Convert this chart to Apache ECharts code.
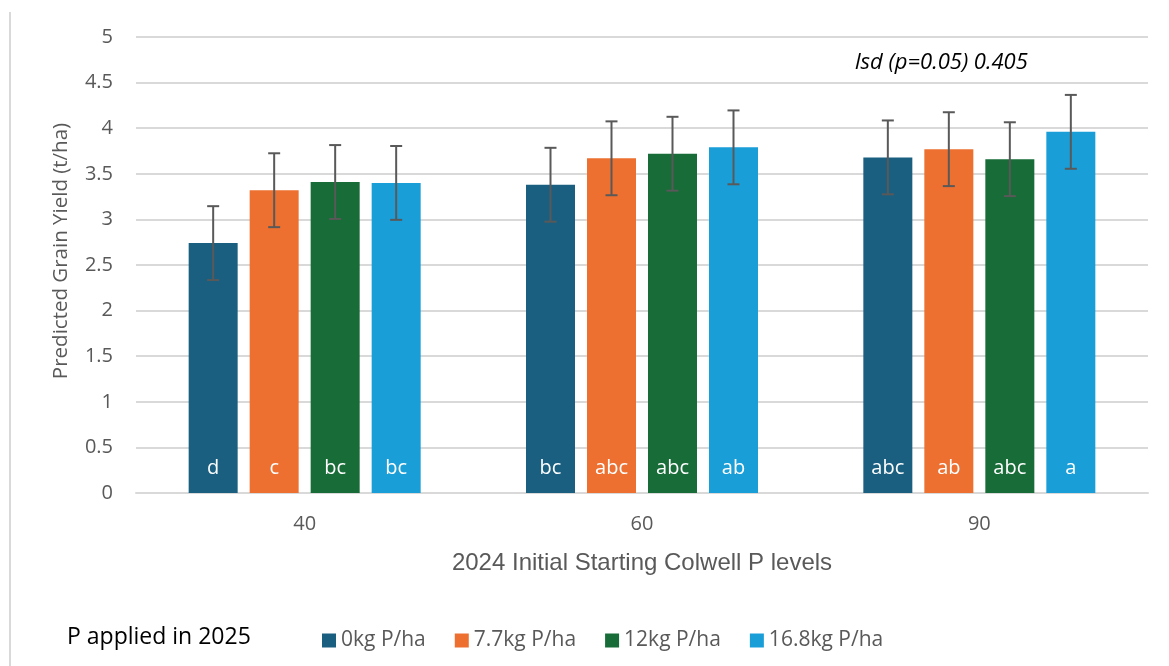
<!DOCTYPE html>
<html>
<head>
<meta charset="utf-8">
<script src="https://cdn.jsdelivr.net/npm/echarts@6/dist/echarts.min.js"></script>
<style>html,body{margin:0;padding:0;background:#fff}#c{width:1169px;height:666px}</style>
</head>
<body>
<div id="c"></div>
<script>
const categories = ['40', '60', '90'];
const seriesNames = ['0kg P/ha', '7.7kg P/ha', '12kg P/ha', '16.8kg P/ha'];
const yield0 = [2.74, 3.38, 3.68];
const yield1 = [3.32, 3.67, 3.77];
const yield2 = [3.41, 3.72, 3.66];
const yield3 = [3.40, 3.79, 3.96];
const letters0 = ['d', 'bc', 'abc'];
const letters1 = ['c', 'abc', 'ab'];
const letters2 = ['bc', 'abc', 'abc'];
const letters3 = ['bc', 'ab', 'a'];
const errorHalf = 0.405;
const yTicks = [0, 0.5, 1, 1.5, 2, 2.5, 3, 3.5, 4, 4.5, 5];

const colors = ['#1A5F80', '#ED7031', '#176C38', '#1A9ED8'];
const values = [yield0, yield1, yield2, yield3];
const letters = [letters0, letters1, letters2, letters3];
const FONT = '"Open Sans", Lato, sans-serif';
const BAR_W = 49, BAR_GAP = 12;

const chart = echarts.init(document.getElementById('c'));
const series = [];
values.forEach((vals, i) => {
  series.push({
    name: seriesNames[i],
    type: 'bar',
    barWidth: BAR_W,
    barGap: (BAR_GAP / BAR_W * 100) + '%',
    itemStyle: { color: colors[i] },
    data: vals.map((v, j) => ({ value: v, label: { formatter: letters[i][j] } })),
    label: {
      show: true, position: 'insideBottom', distance: 15,
      color: '#ffffff', fontSize: 20, fontFamily: FONT
    },
    z: 2
  });
});
values.forEach((vals, i) => {
  series.push({
    type: 'custom',
    silent: true,
    z: 5,
    data: vals.map((v, j) => [j, v - errorHalf, v + errorHalf]),
    renderItem: (params, api) => {
      const off = (i - 1.5) * (BAR_W + BAR_GAP);
      const lo = api.coord([api.value(0), api.value(1)]);
      const hi = api.coord([api.value(0), api.value(2)]);
      const x = lo[0] + off;
      const st = { stroke: '#595959', lineWidth: 2 };
      return {
        type: 'group',
        children: [
          { type: 'line', shape: { x1: x, y1: lo[1], x2: x, y2: hi[1] }, style: st },
          { type: 'line', shape: { x1: x - 6, y1: lo[1], x2: x + 6, y2: lo[1] }, style: st },
          { type: 'line', shape: { x1: x - 6, y1: hi[1], x2: x + 6, y2: hi[1] }, style: st }
        ]
      };
    }
  });
});

chart.setOption({
  animation: false,
  backgroundColor: '#ffffff',
  grid: { left: 136, right: 21, top: 37, bottom: 173 },
  xAxis: {
    type: 'category',
    data: categories,
    name: '2024 Initial Starting Colwell P levels',
    nameLocation: 'middle', nameGap: 58,
    nameTextStyle: { color: '#595959', fontSize: 24, fontFamily: '"Liberation Sans", Arial, sans-serif' },
    axisLine: { lineStyle: { color: '#d9d9d9', width: 2 } },
    axisTick: { show: false },
    axisLabel: { color: '#595959', fontSize: 20, fontFamily: FONT, margin: 21 }
  },
  yAxis: {
    type: 'value',
    min: yTicks[0], max: yTicks[yTicks.length - 1], interval: 0.5,
    axisLine: { show: false }, axisTick: { show: false },
    axisLabel: { color: '#595959', fontSize: 20, fontFamily: FONT, margin: 23 },
    splitLine: { lineStyle: { color: '#d9d9d9', width: 2 } }
  },
  legend: {
    data: seriesNames,
    left: 317, top: 625,
    itemWidth: 14, itemHeight: 14, itemGap: 29,
    icon: 'rect',
    textStyle: { color: '#595959', fontSize: 21, fontFamily: FONT }
  },
  graphic: [
    { type: 'line', shape: { x1: 10, y1: 12, x2: 10, y2: 666 }, style: { stroke: '#d9d9d9', lineWidth: 2 } },
    { type: 'text', x: 61, y: 251, rotation: Math.PI / 2,
      style: { text: 'Predicted Grain Yield (t/ha)', fill: '#595959', fontSize: 20.5, fontFamily: FONT, align: 'center', verticalAlign: 'middle' } },
    { type: 'text', x: 67, y: 637, style: { text: 'P applied in 2025', fill: '#000000', fontSize: 23, fontFamily: FONT, verticalAlign: 'middle' } },
    { type: 'text', x: 855, y: 63, style: { text: 'lsd (p=0.05) 0.405', fill: '#000000', fontSize: 22, fontStyle: 'italic', fontFamily: FONT, verticalAlign: 'middle' } }
  ],
  series: series
});
</script>
</body>
</html>
